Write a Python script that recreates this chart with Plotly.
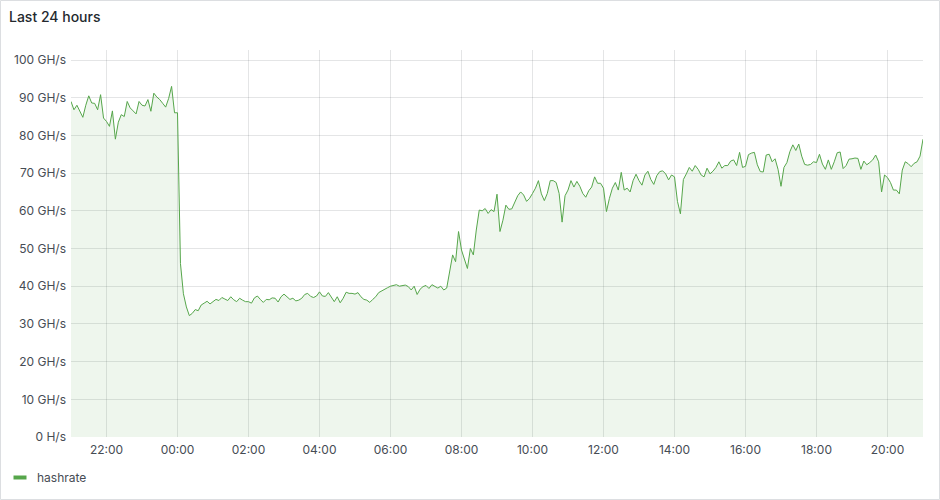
import pandas as pd
import plotly.graph_objects as go

# ---- data (GH/s, 5-minute samples from 21:00 to 21:00 next day) ----
start_time = "2024-01-01 21:00"
end_time = "2024-01-02 21:00"
series_name = "hashrate"

hashrate = [
    # 21:00
    89.0, 86.8, 88.0, 86.4, 84.8, 88.0, 90.5, 88.6, 88.5, 86.8, 90.8, 84.6,
    # 22:00
    83.7, 82.4, 86.5, 79.0, 83.5, 85.5, 85.0, 89.0, 87.3, 86.5, 85.7, 89.0,
    # 23:00
    88.0, 87.8, 89.5, 86.4, 91.2, 90.2, 89.5, 88.5, 87.5, 89.8, 93.0, 86.0,
    # 00:00
    86.0, 46.0, 38.0, 34.5, 32.2, 32.8, 33.8, 33.5, 35.0, 35.5, 36.0, 35.3,
    # 01:00
    35.8, 36.5, 36.2, 37.0, 36.6, 36.2, 37.2, 36.4, 35.9, 36.8, 36.3, 35.9,
    # 02:00
    35.9, 35.5, 36.9, 37.4, 36.5, 35.7, 36.5, 36.4, 36.9, 36.8, 35.8, 37.2,
    # 03:00
    37.9, 37.3, 36.5, 36.8, 36.1, 36.3, 36.8, 37.8, 38.1, 37.3, 37.0, 37.4,
    # 04:00
    38.5, 37.4, 37.3, 38.3, 36.9, 35.9, 37.2, 35.6, 36.8, 38.4, 38.1, 38.1,
    # 05:00
    37.9, 38.3, 37.2, 36.5, 36.3, 35.7, 36.5, 37.2, 38.3, 38.8, 39.2, 39.6,
    # 06:00
    40.0, 40.1, 40.4, 40.0, 40.1, 40.3, 39.9, 39.0, 40.0, 37.8, 39.2, 39.9,
    # 07:00
    40.2, 39.4, 40.4, 40.0, 39.5, 40.0, 39.0, 39.5, 43.4, 48.3, 46.5, 54.5,
    # 08:00
    49.6, 47.4, 44.7, 50.0, 48.3, 54.9, 60.2, 60.0, 60.6, 59.3, 60.3, 59.8,
    # 09:00
    64.4, 54.5, 57.5, 61.5, 60.4, 60.5, 62.5, 64.0, 65.0, 64.2, 62.5, 63.3,
    # 10:00
    64.6, 66.0, 68.0, 64.5, 62.7, 64.6, 68.0, 68.0, 67.5, 64.6, 57.0, 64.0,
    # 11:00
    65.5, 68.0, 66.3, 67.8, 66.5, 64.6, 63.6, 65.3, 66.3, 69.0, 67.3, 67.3,
    # 12:00
    66.0, 59.8, 63.3, 66.0, 67.5, 65.5, 70.2, 65.5, 66.0, 65.0, 68.0, 69.7,
    # 13:00
    68.0, 66.8, 69.5, 70.5, 68.3, 67.0, 69.3, 70.4, 70.6, 69.8, 68.2, 69.5,
    # 14:00
    69.0, 62.5, 59.2, 68.3, 69.8, 71.5, 70.5, 72.0, 71.0, 69.5, 69.0, 71.3,
    # 15:00
    69.8, 70.5, 71.5, 73.0, 71.3, 72.0, 72.0, 73.2, 73.5, 72.0, 75.5, 71.5,
    # 16:00
    71.8, 74.9, 75.3, 75.5, 72.2, 70.4, 70.3, 74.8, 75.0, 73.0, 73.8, 71.0,
    # 17:00
    66.5, 71.5, 72.8, 75.7, 77.5, 76.0, 77.7, 74.5, 72.3, 72.1, 72.3, 73.0,
    # 18:00
    72.8, 75.0, 72.4, 71.0, 73.5, 71.0, 73.0, 75.4, 75.6, 71.2, 72.0, 73.7,
    # 19:00
    73.8, 74.0, 73.9, 71.0, 73.2, 72.2, 72.8, 73.5, 74.8, 73.0, 65.0, 69.5,
    # 20:00
    68.8, 67.5, 65.5, 65.5, 64.5, 70.8, 73.0, 72.5, 71.7, 72.6, 73.0, 74.5,
    # 21:00
    79.0,
]

y_tick_vals = [0, 10, 20, 30, 40, 50, 60, 70, 80, 90, 100]
y_tick_text = ["0 H/s", "10 GH/s", "20 GH/s", "30 GH/s", "40 GH/s", "50 GH/s",
               "60 GH/s", "70 GH/s", "80 GH/s", "90 GH/s", "100 GH/s"]
title_text = "Last 24 hours"

times = pd.date_range(start=start_time, periods=len(hashrate), freq="5min")

# ---- layout constants ----
W, H = 940, 500
L, R, T, B = 71, 17, 50, 63
PW, PH = W - L - R, H - T - B

def px_x(px):
    return (px - L) / PW

def px_y(py):
    return (H - B - py) / PH

LINE = "#56A64B"
GRID = "rgba(36,41,46,0.12)"
TEXT = "#464C54"
FONT = "Inter, Roboto, sans-serif"

fig = go.Figure()
fig.add_trace(go.Scatter(
    x=times, y=hashrate, mode="lines", name=series_name,
    line=dict(color=LINE, width=1),
    fill="tozeroy", fillcolor="rgba(86,166,75,0.10)",
    showlegend=False, hoverinfo="x+y",
))

fig.update_layout(
    width=W, height=H,
    margin=dict(l=L, r=R, t=T, b=B),
    paper_bgcolor="white", plot_bgcolor="white",
    font=dict(family=FONT, size=12, color=TEXT),
    title=dict(text=title_text, x=9 / W, y=1 - 17 / H, xref="container", yref="container",
               xanchor="left", yanchor="middle",
               font=dict(family=FONT, size=14, color="#24292E", weight=500)),
    xaxis=dict(
        range=[start_time, end_time], type="date",
        tickformat="%H:%M", dtick=7200000, tick0="2024-01-01 22:00",
        showgrid=True, gridcolor=GRID, gridwidth=1,
        zeroline=False, showline=False, ticks="", ticklabelstandoff=4,
        tickfont=dict(family=FONT, size=12, color=TEXT),
    ),
    yaxis=dict(
        range=[0, PH / 3.77],
        tickvals=y_tick_vals, ticktext=y_tick_text,
        showgrid=True, gridcolor=GRID, gridwidth=1,
        zeroline=False, showline=False, ticks="", ticklabelstandoff=4,
        tickfont=dict(family=FONT, size=12, color=TEXT),
    ),
    shapes=[
        # panel border
        dict(type="rect", xref="paper", yref="paper",
             x0=px_x(0.5), x1=px_x(W - 0.5), y0=px_y(H - 0.5), y1=px_y(0.5),
             line=dict(color="#DCDEE1", width=1), fillcolor="rgba(0,0,0,0)", layer="below"),
        # legend swatch
        dict(type="line", xref="paper", yref="paper",
             x0=px_x(13.5), x1=px_x(26.5), y0=px_y(477.5), y1=px_y(477.5),
             line=dict(color=LINE, width=4)),
    ],
    annotations=[
        dict(text=series_name, xref="paper", yref="paper",
             x=px_x(35), y=px_y(477), xanchor="left", yanchor="middle",
             showarrow=False, font=dict(family=FONT, size=12, color=TEXT)),
    ],
)

fig.write_html(
    "out.html",
    config={"displayModeBar": False},
    post_script="document.body.style.margin='0';document.body.style.overflow='hidden';",
)
